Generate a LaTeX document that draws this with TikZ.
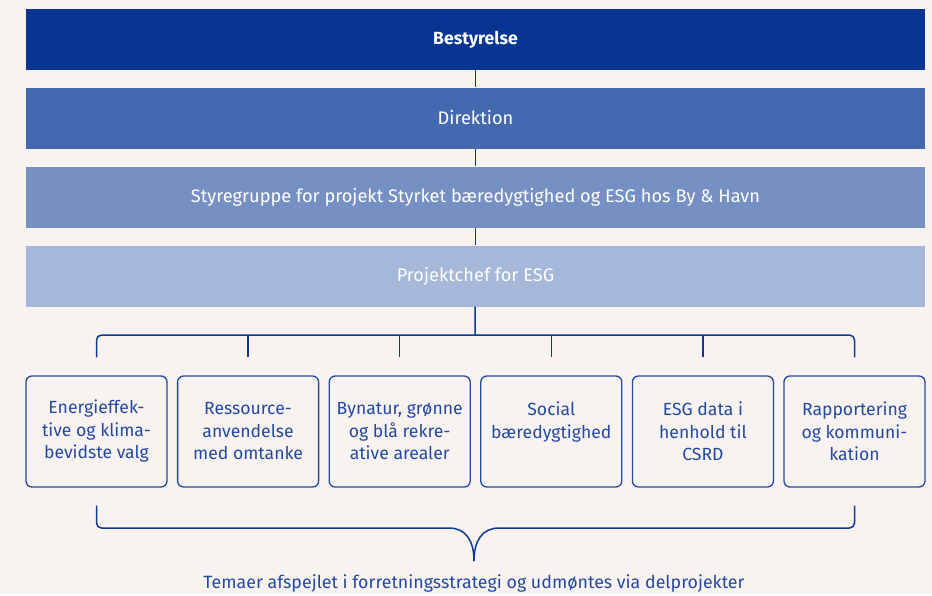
\documentclass[tikz,border=0pt]{standalone}
\usepackage{fontspec}
\setmainfont{Fira Sans}
\definecolor{bg}{HTML}{F8F3F1}
\definecolor{barA}{HTML}{073591}
\definecolor{barB}{HTML}{4569AE}
\definecolor{barC}{HTML}{7790C3}
\definecolor{barD}{HTML}{A5B8D9}
\definecolor{lineblue}{HTML}{0A3A96}
\definecolor{boxblue}{HTML}{23499F}
\begin{document}
\begin{tikzpicture}[x=1pt,y=-1pt,
  bar/.style={fill=#1,minimum width=899pt,minimum height=61pt,inner sep=0pt,text=white,font=\fontsize{18.2}{21}\selectfont},
  tema/.style={draw=boxblue,line width=1.3pt,rounded corners=6pt,minimum width=141pt,minimum height=111pt,inner sep=0pt,text=boxblue,align=center,font=\fontsize{17.6}{22.5}\selectfont},
  link/.style={draw=lineblue,line width=1.5pt}]
\fill[bg](0,0)rectangle(932,594);
\node[bar=barA,font=\fontsize{17.6}{21}\selectfont\bfseries](best)at(475.5,39.5){Bestyrelse};
\node[bar=barB](dir)at(475.5,118){Direktion};
\node[bar=barC](styr)at(475.5,197){Styregruppe for projekt Styrket bæredygtighed og ESG hos By \& Havn};
\node[bar=barD](chef)at(475.5,276){Projektchef for ESG};
\draw[link](best)--(dir);
\draw[link](dir)--(styr);
\draw[link](styr)--(chef);
% temaer
\node[tema](t1)at(96.5,431.5){Energieffek-\\tive og klima-\\bevidste valg};
\node[tema](t2)at(248.1,431.5){Ressource-\\anvendelse\\med omtanke};
\node[tema](t3)at(399.7,431.5){Bynatur, grønne\\og blå rekre-\\ative arealer};
\node[tema](t4)at(551.3,431.5){Social\\bæredygtighed\\\mbox{}};
\node[tema](t5)at(702.9,431.5){ESG data i\\henhold til\\CSRD};
\node[tema](t6)at(854.5,431.5){Rapportering\\og kommuni-\\kation};
\coordinate(split)at(475,335);
\draw[link](chef)--(split);
\draw[link,rounded corners=5pt]([yshift=18pt]t1.north)|-(split)-|([yshift=18pt]t6.north);
\draw[link]([yshift=18pt]t2.north)--(t2.north|-split);
\draw[link]([yshift=18pt]t3.north)--(t3.north|-split);
\draw[link]([yshift=18pt]t4.north)--(t4.north|-split);
\draw[link]([yshift=18pt]t5.north)--(t5.north|-split);
% klamme
\coordinate(tip)at(474,561);
\coordinate(braceL)at(444,528);
\coordinate(braceR)at(504,528);
\draw[link,rounded corners=5pt]([yshift=-18pt]t1.south)|-(braceL)[sharp corners]..controls+(22,0)and+(0,-20)..(tip);
\draw[link,rounded corners=5pt]([yshift=-18pt]t6.south)|-(braceR)[sharp corners]..controls+(-22,0)and+(0,-20)..(tip);
\node[text=boxblue,font=\fontsize{17.8}{20}\selectfont](note)at(474,583){Temaer afspejlet i forretningsstrategi og udmøntes via delprojekter};
\end{tikzpicture}
\end{document}
